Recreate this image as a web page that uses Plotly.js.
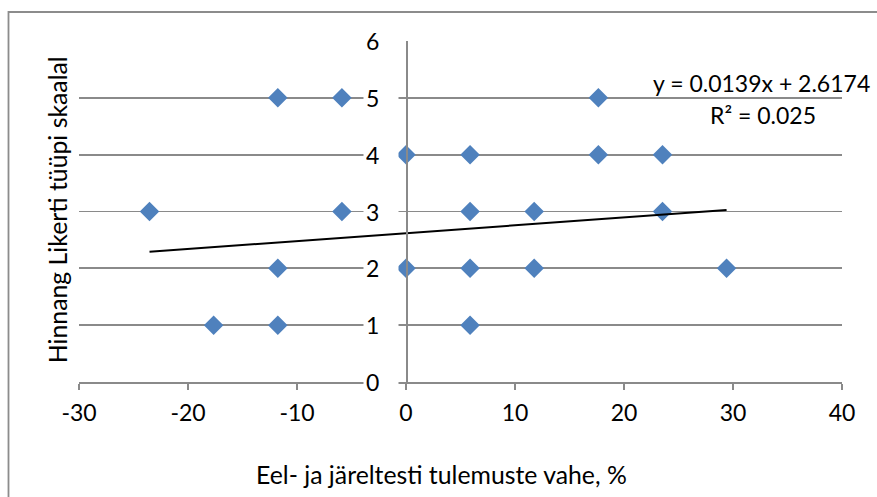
<!DOCTYPE html>
<html>
<head>
<meta charset="utf-8">
<script src="https://cdn.plot.ly/plotly-3.0.1.min.js"></script>
<style>html,body{margin:0;padding:0;background:#fff;}#chart{width:877px;height:497px;}</style>
</head>
<body>
<div id="chart"></div>
<script>
// Data
const diffPercent = [-23.53, -17.65, -11.76, -11.76, -11.76, -5.88, -5.88, 0, 0, 5.88, 5.88, 5.88, 5.88, 11.76, 11.76, 17.65, 17.65, 23.53, 23.53, 29.41];
const likertScore = [3, 1, 5, 2, 1, 5, 3, 4, 2, 4, 3, 2, 1, 3, 2, 5, 4, 4, 3, 2];
const trendSlope = 0.0139;
const trendIntercept = 2.6174;
const equationText = "y = 0.0139x + 2.6174";
const r2Text = "R² = 0.025";
const xTickVals = [-30, -20, -10, 0, 10, 20, 30, 40];
const yTickVals = [0, 1, 2, 3, 4, 5, 6];
const xTitle = "Eel- ja järeltesti tulemuste vahe, %";
const yTitle = "Hinnang Likerti tüüpi skaalal";

const FONT = "Lato, 'Open Sans', sans-serif";
const GRID = "#8a8a8a";
const FS = 23;

const xMin = Math.min(...diffPercent), xMax = Math.max(...diffPercent);
const trendX = [xMin, xMax];
const trendY = trendX.map(v => trendSlope * v + trendIntercept);

const traces = [
  {
    x: diffPercent, y: likertScore, type: "scatter", mode: "markers",
    marker: {symbol: "diamond", size: 15, color: "#4F81BD", line: {width: 0}},
    hoverinfo: "x+y", showlegend: false
  },
  {
    x: trendX, y: trendY, type: "scatter", mode: "lines",
    line: {color: "#000000", width: 2}, hoverinfo: "skip", showlegend: false
  }
];

const annotations = yTickVals.map(v => ({
  x: 0, y: v, xref: "x", yref: "y", xanchor: "right", yanchor: "middle",
  xshift: -7, text: String(v), showarrow: false, bgcolor: "#ffffff",
  width: 30, align: "left", borderpad: 2,
  font: {family: FONT, size: FS, color: "#000"}
}));

annotations.push(
  {x: 0.894, y: 0.877, xref: "paper", yref: "paper", xanchor: "center", yanchor: "middle",
   text: equationText, showarrow: false, font: {family: FONT, size: FS, color: "#000"}},
  {x: 0.8965, y: 0.783, xref: "paper", yref: "paper", xanchor: "center", yanchor: "middle",
   text: r2Text, showarrow: false, font: {family: FONT, size: FS, color: "#000"}},
  {x: 0.4757, y: -0.2727, xref: "paper", yref: "paper", xanchor: "center", yanchor: "middle",
   text: xTitle, showarrow: false, font: {family: FONT, size: 24.8, color: "#000"}},
  {x: -0.0288, y: 0.504, xref: "paper", yref: "paper", xanchor: "center", yanchor: "middle",
   text: yTitle, textangle: -90, showarrow: false, font: {family: FONT, size: 24.8, color: "#000"}}
);

const layout = {
  width: 877, height: 497,
  margin: {l: 79, r: 35, t: 41, b: 115, pad: 0},
  paper_bgcolor: "#ffffff", plot_bgcolor: "#ffffff",
  font: {family: FONT, size: FS, color: "#000"},
  xaxis: {
    range: [-30, 40], tickvals: xTickVals, ticktext: xTickVals.map(String),
    showgrid: false, zeroline: false, showline: true, linecolor: GRID, linewidth: 1.8,
    ticks: "outside", ticklen: 6, tickwidth: 1.6, tickcolor: GRID, ticklabelstandoff: 4,
    tickfont: {family: FONT, size: FS, color: "#000"}, fixedrange: true
  },
  yaxis: {
    range: [0, 6], tickvals: yTickVals, showticklabels: false,
    showgrid: true, gridcolor: GRID, gridwidth: 1.8, zeroline: false,
    showline: true, linecolor: GRID, linewidth: 1.8, ticks: "",
    anchor: "free", position: 30 / 70, fixedrange: true
  },
  shapes: [
    {type: "rect", xref: "paper", yref: "paper", x0: -0.0924, x1: 1.3, y0: -0.6, y1: 1.085,
     line: {color: "#8c8c8c", width: 1.8}, fillcolor: "rgba(0,0,0,0)", layer: "below"}
  ],
  annotations: annotations,
  showlegend: false
};

Plotly.newPlot("chart", traces, layout, {displayModeBar: false, staticPlot: true});
</script>
</body>
</html>
